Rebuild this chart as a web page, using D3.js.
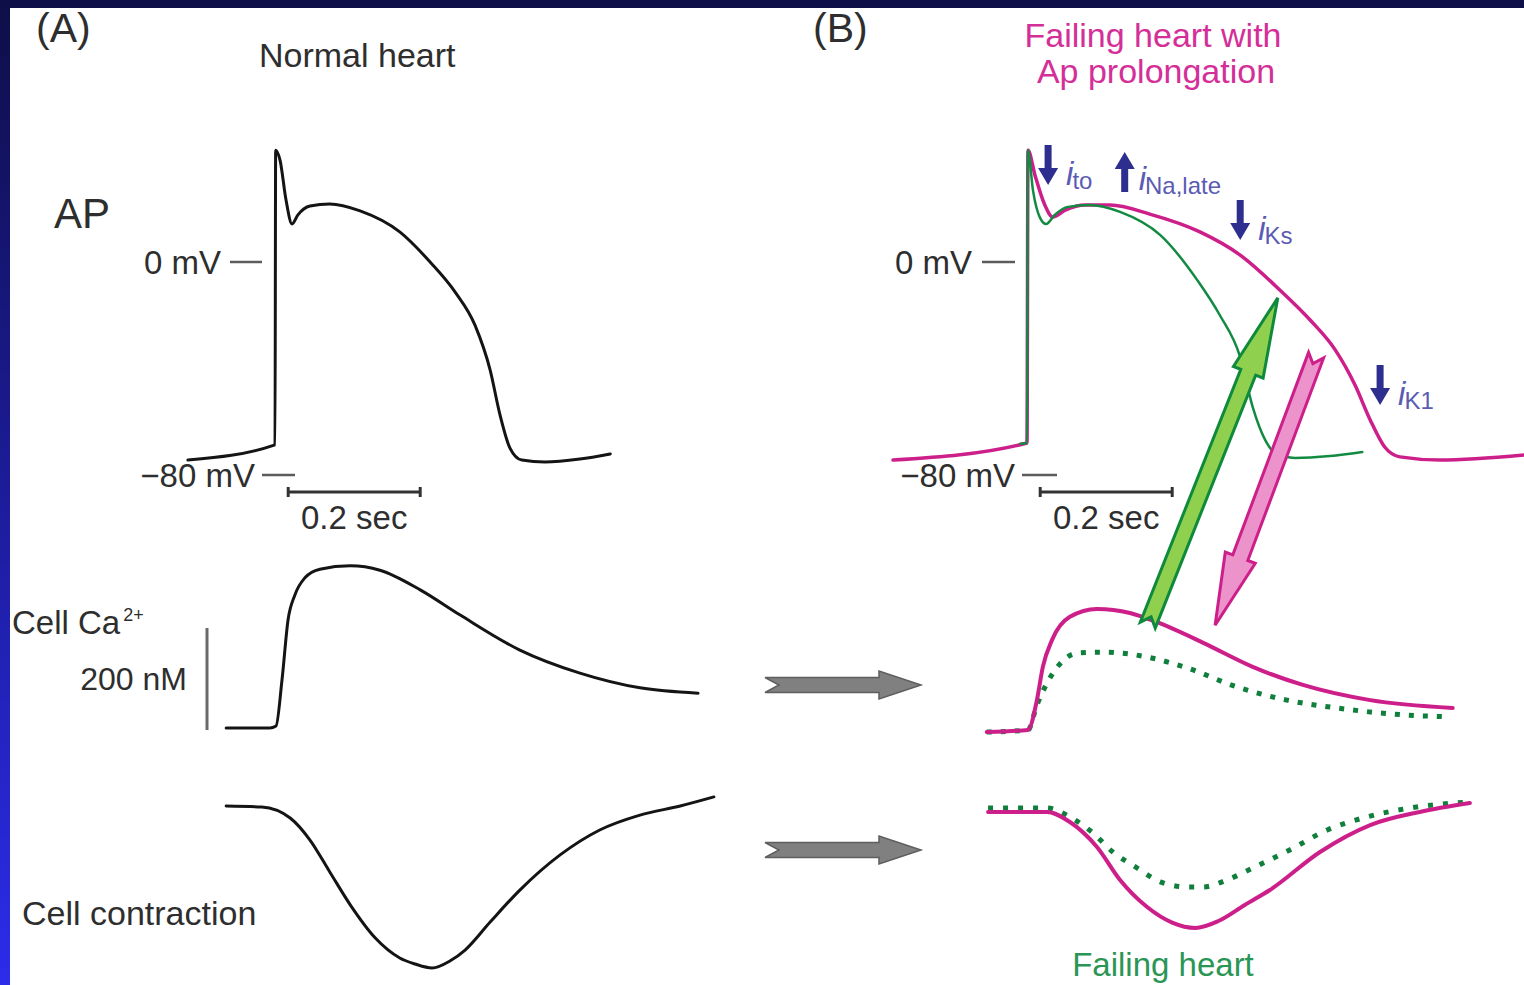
<!DOCTYPE html>
<html>
<head>
<meta charset="utf-8">
<script src="https://cdn.jsdelivr.net/npm/d3@7"></script>
<style>
  html, body { margin: 0; padding: 0; background: #fff; }
  svg { display: block; }
  text { font-family: "Liberation Sans", Arial, sans-serif; }
</style>
</head>
<body>
<svg id="fig" width="1524" height="985"></svg>
<script>
// ---- Traces: [time (ms from upstroke), value] ----
// Action potentials (mV)
const apNormal = [[-132,-74.4],[0,-68.7],[1,42],[7.6,38.3],[16.7,23.3],[25.8,14.3],[34.8,17.7],[53,21],[83,21.8],[129,19.2],[189,11.3],[235,0],[273,-11.3],[303,-23.7],[326,-40.6],[341,-57.5],[356,-69.9],[374,-74.4],[409,-75.1],[462,-74],[508,-72.1]];
const apFailingProlonged = [[-203,-74.4],[0,-68],[1.5,42],[12,32.7],[27,21.4],[39,16.9],[58,19.5],[88,21.4],[126,21.4],[186,18],[262,11.3],[323,2.6],[383,-10.5],[429,-21.8],[467,-33],[497,-46.2],[520,-59.3],[542,-69.5],[565,-73.2],[626,-74.4],[753,-72.5]];
const apFailing = [[-10,-68.3],[0,-68],[1.5,42],[9,27],[20,16.5],[29,14.3],[42,17.7],[62,20.7],[95,21.4],[141,18.8],[202,10.1],[258,-6.8],[292,-19.9],[323,-35.7],[342,-54.5],[361,-66.9],[376,-71.7],[406,-73.6],[459,-72.9],[508,-71.4]];

// Cytosolic Ca2+ transients (nM above diastolic level)
const caNormal = [[-74,0],[-8,0],[1.5,4],[10.6,98],[19.7,220],[30,271],[45,306],[68,324],[114,331],[159,322],[220,282],[280,231],[371,159],[462,112],[553,82],[641,71]];
const caFailingProlonged = [[-61,0],[1.5,4],[15,65],[24,133],[38,188],[65,235],[106,251],[156,243],[197,224],[267,182],[342,133],[418,96],[520,65],[645,49]];
const caFailing = [[-61,0],[1.5,4],[15,55],[23,80],[45,131],[76,161],[115,163],[182,153],[242,131],[318,92],[394,65],[470,49],[570,35],[641,31]];

// Cell shortening (relative units, normal peak = 100)
const conNormal = [[-74,0],[-20,0.6],[23,7.4],[53,21],[83,40.7],[114,61],[152,81.5],[189,93.8],[212,97.5],[238,100],[265,95.7],[288,88.9],[326,71.6],[371,51.9],[432,30.2],[492,14.8],[553,5.6],[614,0],[665,-5.6]];
const conFailingProlonged = [[-59,1.2],[30,1.2],[65,7.4],[106,22.8],[141,43.2],[182,59.9],[220,69.5],[255,72.8],[290,68.5],[330,58.6],[368,49.4],[444,25.9],[520,9.3],[595,1.2],[671,-4.3]];
const conFailing = [[-59,-1.2],[30,-1.2],[65,4.3],[100,14.2],[130,25.9],[167,35.8],[202,44.4],[242,47.5],[267,47.5],[303,43.2],[342,35.8],[398,24.7],[455,12.3],[515,4.3],[580,-1.2],[667,-4.9]];

// Ionic current changes in the failing myocyte: [symbol, subscript, time, from mV, to mV]
const ionCurrents = [
  ["i", "to", 32, 43.9, 28.9],
  ["i", "Na,late", 148, 26.3, 41.3],
  ["i", "Ks", 323, 23.3, 8.3],
  ["i", "K1", 535, -38.7, -53.7]
];

// Calibration values
const voltageTicks = [0, -80];
const timeBar = [20, 220];      // 0.2 s bar (ms)
const caBar = [0, 200];         // 200 nM bar

// ---- Scales ----
const xA = d3.scaleLinear().domain([0, 200]).range([275, 407]);
const xB = d3.scaleLinear().domain([0, 200]).range([1027, 1159]);
const yAP = d3.scaleLinear().domain([-80, 0]).range([475, 262]);
const yCaA = d3.scaleLinear().domain([0, 200]).range([728, 630]);
const yCaB = d3.scaleLinear().domain([0, 200]).range([732, 634]);
const yConA = d3.scaleLinear().domain([0, 100]).range([806, 968]);
const yConB = d3.scaleLinear().domain([0, 100]).range([810, 972]);

const COL = {
  black: "#141414", magenta: "#cc1f8a", green: "#138a42", dotGreen: "#0f7f3b",
  tick: "#5c5c5c", text: "#2e2e2e", ion: "#2e2e8e", ionText: "#5b5bb3"
};

const svg = d3.select("#fig");

// Slide frame: dark band on top, blue gradient strip on the left
const defs = svg.append("defs");
const grad = defs.append("linearGradient").attr("id", "edge").attr("x1", 0).attr("y1", 0).attr("x2", 0).attr("y2", 1);
grad.append("stop").attr("offset", "0%").attr("stop-color", "#0e0e48");
grad.append("stop").attr("offset", "50%").attr("stop-color", "#1c1c9a");
grad.append("stop").attr("offset", "100%").attr("stop-color", "#2c2ceb");
svg.append("rect").attr("x", 0).attr("y", 0).attr("width", 1524).attr("height", 985).attr("fill", "#fff");
svg.append("rect").attr("x", 0).attr("y", 0).attr("width", 10).attr("height", 985).attr("fill", "url(#edge)");
svg.append("rect").attr("x", 0).attr("y", 0).attr("width", 1524).attr("height", 8).attr("fill", "#0e0e48");

const lineGen = (xs, ys) => d3.line()
  .x(d => xs(d[0])).y(d => ys(d[1]))
  .curve(d3.curveMonotoneX);

function trace(data, xs, ys, color, width, dash) {
  const p = svg.append("path").datum(data)
    .attr("d", lineGen(xs, ys))
    .attr("fill", "none").attr("stroke", color).attr("stroke-width", width)
    .attr("stroke-linejoin", "round");
  if (dash) p.attr("stroke-dasharray", dash).attr("stroke-linecap", "butt");
  else p.attr("stroke-linecap", "round");
  return p;
}

function label(x, y, str, opts = {}) {
  return svg.append("text").attr("x", x).attr("y", y).text(str)
    .attr("font-size", opts.size || 33)
    .attr("fill", opts.fill || COL.text)
    .attr("text-anchor", opts.anchor || "start");
}

// Block arrow outline between two points
function arrowPath(p0, p1, o) {
  const dx = p1[0] - p0[0], dy = p1[1] - p0[1];
  const L = Math.hypot(dx, dy);
  const ux = dx / L, uy = dy / L, nx = -uy, ny = ux;
  const pt = (a, b) => [p0[0] + ux * a + nx * b, p0[1] + uy * a + ny * b];
  const pts = [
    pt(0, o.shaft), pt(L - o.head, o.shaft), pt(L - o.head, o.headW), pt(L, 0),
    pt(L - o.head, -o.headW), pt(L - o.head, -o.shaft), pt(0, -o.shaft), pt(o.notch || 0, 0)
  ];
  return "M" + pts.map(p => p.map(v => v.toFixed(1)).join(",")).join("L") + "Z";
}

// ---- Panel labels ----
label(36, 42, "(A)", { size: 41 });
label(813, 42, "(B)", { size: 41 });
label(259, 67, "Normal heart", { size: 34 });
label(54, 228, "AP", { size: 42 });
label(1153, 47, "Failing heart with", { size: 34, fill: "#d42f98", anchor: "middle" });
label(1156, 83, "Ap prolongation", { size: 34, fill: "#d42f98", anchor: "middle" });
label(1163, 976, "Failing heart", { size: 33, fill: "#2a9656", anchor: "middle" });

// ---- Voltage calibration ticks ----
const tickSpec = [
  { v: voltageTicks[0], x0: 230, x1: 262, tx: 221 },
  { v: voltageTicks[1], x0: 262, x1: 295, tx: 255 },
  { v: voltageTicks[0], x0: 982, x1: 1015, tx: 972 },
  { v: voltageTicks[1], x0: 1022, x1: 1057, tx: 1015 }
];
tickSpec.forEach(s => {
  const y = yAP(s.v);
  svg.append("line").attr("x1", s.x0).attr("x2", s.x1).attr("y1", y).attr("y2", y)
    .attr("stroke", COL.tick).attr("stroke-width", 2.5);
  label(s.tx, y + 12, (s.v < 0 ? "\u2212" + Math.abs(s.v) : s.v) + " mV", { anchor: "end", size: 33 });
});

// ---- Time scale bars ----
[xA, xB].forEach(xs => {
  const y = 492;
  const x0 = xs(timeBar[0]), x1 = xs(timeBar[1]);
  svg.append("line").attr("x1", x0).attr("x2", x1).attr("y1", y).attr("y2", y)
    .attr("stroke", "#333").attr("stroke-width", 3);
  [x0, x1].forEach(x => svg.append("line").attr("x1", x).attr("x2", x)
    .attr("y1", y - 5).attr("y2", y + 5).attr("stroke", "#333").attr("stroke-width", 3));
  label((x0 + x1) / 2, y + 37, ((timeBar[1] - timeBar[0]) / 1000) + " sec", { anchor: "middle", size: 33 });
});

// ---- Ca2+ calibration ----
svg.append("line").attr("x1", 207).attr("x2", 207).attr("y1", yCaA(caBar[0]) + 2).attr("y2", yCaA(caBar[1]) - 2)
  .attr("stroke", "#6a6a6a").attr("stroke-width", 3);
label(187, 690, (caBar[1] - caBar[0]) + " nM", { anchor: "end", size: 32 });
const caLab = label(12, 634, "Cell Ca", { size: 33 });
caLab.append("tspan").attr("font-size", 18).attr("dy", -13).attr("dx", 3).text("2+");
label(22, 925, "Cell contraction", { size: 34 });

// ---- Panel A traces ----
trace(apNormal, xA, yAP, COL.black, 3);
trace(caNormal, xA, yCaA, COL.black, 3);
trace(conNormal, xA, yConA, COL.black, 3);

// ---- Panel B traces ----
trace(apFailingProlonged, xB, yAP, COL.magenta, 3.5);
trace(apFailing, xB, yAP, COL.green, 2.5);
trace(caFailing, xB, yCaB, COL.dotGreen, 5, "5,9");
trace(caFailingProlonged, xB, yCaB, COL.magenta, 4);
trace(conFailing, xB, yConB, COL.dotGreen, 5, "5,10");
trace(conFailingProlonged, xB, yConB, COL.magenta, 4);

// ---- Ionic current arrows and labels ----
ionCurrents.forEach(([sym, sub, t, vFrom, vTo]) => {
  const x = xB(t);
  svg.append("path")
    .attr("d", arrowPath([x, yAP(vFrom)], [x, yAP(vTo)], { shaft: 3.5, headW: 10, head: 17 }))
    .attr("fill", COL.ion);
  const up = vTo > vFrom;
  const base = Math.max(yAP(vFrom), yAP(vTo));
  const t0 = svg.append("text").attr("x", x + (sub === "Na,late" ? 14 : 18)).attr("y", base - (up ? 2 : 0))
    .attr("fill", COL.ionText);
  t0.append("tspan").attr("font-style", "italic").attr("font-size", 33).text(sym);
  t0.append("tspan").attr("font-size", 24).attr("dy", 4).attr("dx", -1).text(sub);
});

// ---- Large coupling arrows ----
svg.append("path")
  .attr("d", arrowPath([xB(183), yCaB(218)], [xB(380), yAP(-13.5)], { shaft: 8, headW: 16, head: 80, notch: 9 }))
  .attr("fill", "#8fd14f").attr("stroke", "#0f8a3c").attr("stroke-width", 3).attr("stroke-linejoin", "miter");
svg.append("path")
  .attr("d", arrowPath([xB(438), yAP(-35)], [xB(285), yCaB(218)], { shaft: 8, headW: 16, head: 72, notch: 9 }))
  .attr("fill", "#ec93cb").attr("stroke", COL.magenta).attr("stroke-width", 3).attr("stroke-linejoin", "miter");

// ---- Grey transfer arrows between panels ----
[685, 850].forEach(y => {
  svg.append("path")
    .attr("d", arrowPath([765, y], [921, y], { shaft: 7.5, headW: 14, head: 42, notch: 14 }))
    .attr("fill", "#808080").attr("stroke", "#5e5e5e").attr("stroke-width", 1.5);
});
</script>
</body>
</html>
